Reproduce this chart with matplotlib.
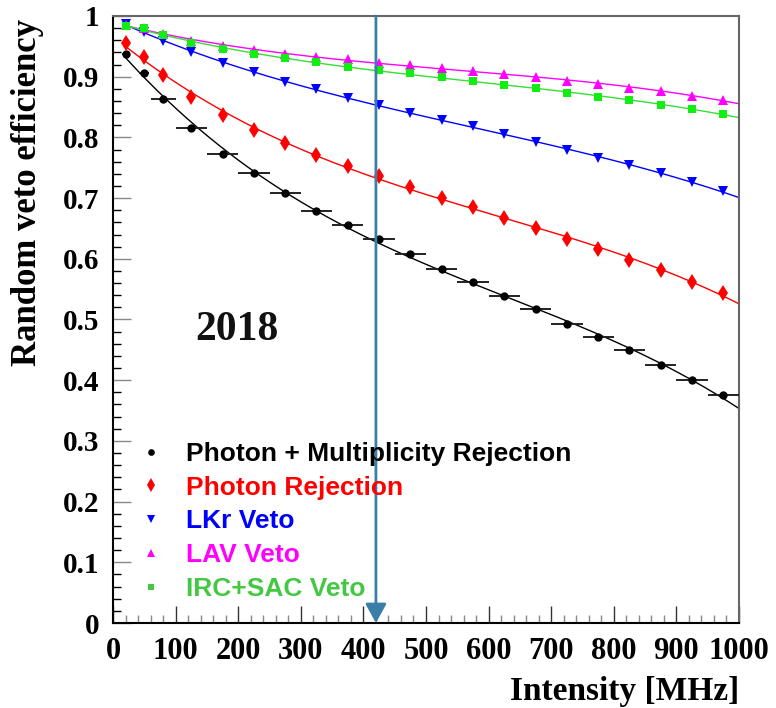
import numpy as np
import matplotlib
matplotlib.use("Agg")
import matplotlib.pyplot as plt
from matplotlib.ticker import MultipleLocator, FuncFormatter

# ---------------- data ----------------
intensity = [20, 50, 80, 125, 175, 225, 275, 325, 375, 425, 475, 525, 575,
             625, 675, 725, 775, 825, 875, 925, 975]
intensity_err = [5, 8, 20, 25, 25, 25, 25, 25, 25, 25, 25, 25, 25,
                 25, 25, 25, 25, 25, 25, 25, 25]

photon_mult = [0.938, 0.906, 0.864, 0.816, 0.773, 0.741, 0.708, 0.679, 0.656,
               0.632, 0.608, 0.584, 0.561, 0.539, 0.517, 0.492, 0.471, 0.450,
               0.425, 0.400, 0.376]
photon_rej = [0.955, 0.932, 0.903, 0.866, 0.837, 0.813, 0.791, 0.771, 0.753,
              0.737, 0.718, 0.700, 0.685, 0.668, 0.650, 0.633, 0.616, 0.598,
              0.582, 0.562, 0.543]
lkr_veto = [0.987, 0.974, 0.959, 0.940, 0.922, 0.907, 0.892, 0.879, 0.865,
            0.854, 0.840, 0.829, 0.818, 0.806, 0.793, 0.779, 0.766, 0.755,
            0.741, 0.726, 0.711]
lav_veto = [0.985, 0.980, 0.970, 0.959, 0.951, 0.944, 0.937, 0.932, 0.929,
            0.923, 0.919, 0.915, 0.909, 0.905, 0.899, 0.893, 0.888, 0.882,
            0.876, 0.869, 0.862]
irc_sac_veto = [0.984, 0.980, 0.969, 0.956, 0.945, 0.937, 0.930, 0.924, 0.916,
                0.911, 0.906, 0.899, 0.893, 0.886, 0.881, 0.873, 0.867, 0.862,
                0.853, 0.847, 0.839]

labels = ["Photon + Multiplicity Rejection", "Photon Rejection", "LKr Veto",
          "LAV Veto", "IRC+SAC Veto"]
nominal_intensity = 420
year_label = "2018"

# ---------------- style ----------------
serif = ["Liberation Serif", "DejaVu Serif"]
sans = ["Liberation Sans", "DejaVu Sans"]

fig = plt.figure(figsize=(7.76, 7.08), dpi=100)
ax = fig.add_axes([113 / 776, 1 - 623 / 708, 626 / 776, 607 / 708])

series = [
    (photon_mult, "o", "black", "black", 6.0, "black"),
    (photon_rej, "d", "#ff0000", "#ff0000", 8.5, "#ff0000"),
    (lkr_veto, "v", "#0000ff", "#0000ff", 7.0, "#0000ff"),
    (lav_veto, "^", "#ff00ff", "#ff00ff", 7.0, "#ff00ff"),
    (irc_sac_veto, "s", "#11ee11", "#33e033", 6.0, "#44c844"),
]

x = np.array(intensity, dtype=float)
xfit = np.linspace(x[0], 1000, 300)
handles = []
for i, (vals, mk, col, lcol, ms, tcol) in enumerate(series):
    coef = np.polyfit(x, np.array(vals), 3)
    ax.plot(xfit, np.polyval(coef, xfit), color=lcol, lw=1.0, zorder=2)
    if i == 0:
        ax.errorbar(x, vals, xerr=intensity_err, fmt="none", ecolor="#222222",
                    elinewidth=1.4, capsize=0, zorder=3)
    ax.plot(x, vals, linestyle="none", marker=mk, color=col, ms=ms,
            markeredgewidth=0, zorder=4)
    h, = ax.plot([], [], linestyle="none", marker=mk, color=tcol,
                 ms=ms * 0.8, markeredgewidth=0)
    handles.append(h)

ax.set_xlim(0, 1000)
ax.set_ylim(0, 1)

# arrow
ax.annotate("", xy=(nominal_intensity, 0), xytext=(nominal_intensity, 1),
            arrowprops=dict(arrowstyle="-|>,head_length=0.4,head_width=0.22",
                            color="#3b7fa8", lw=2.0, shrinkA=0, shrinkB=0,
                            mutation_scale=29),
            zorder=5, annotation_clip=False)

ax.text(198, 0.483, year_label, fontsize=30, fontweight="bold", family=serif,
        ha="center", va="center", color="#111111")

leg = ax.legend(handles, labels, loc="lower left",
                bbox_to_anchor=(0.022, 0.019), frameon=False,
                prop=dict(family=sans, weight="bold", size=19),
                handlelength=1.0, handletextpad=0.85, labelspacing=0.37,
                borderaxespad=0, numpoints=1)
for t, s in zip(leg.get_texts(), series):
    t.set_color(s[5])

# axes & ticks
for side in ("left", "bottom"):
    ax.spines[side].set_color("black")
    ax.spines[side].set_linewidth(1.5)
for side in ("top", "right"):
    ax.spines[side].set_color("#666666")
    ax.spines[side].set_linewidth(1.5)

ax.xaxis.set_major_locator(MultipleLocator(100))
ax.xaxis.set_minor_locator(MultipleLocator(20))
ax.yaxis.set_major_locator(MultipleLocator(0.1))
ax.yaxis.set_minor_locator(MultipleLocator(0.02))
ax.xaxis.set_major_formatter(FuncFormatter(lambda v, p: f"{v:.0f}"))
ax.yaxis.set_major_formatter(FuncFormatter(lambda v, p: f"{v:g}"))

ax.tick_params(which="both", direction="in", top=False, right=False)
ax.tick_params(axis="y", which="major", length=13, width=1.0, color="#888888",
               pad=10)
ax.tick_params(axis="y", which="minor", length=6, width=1.0, color="black")
ax.tick_params(axis="x", which="major", length=12, width=1.0, color="#333333",
               pad=10)
ax.tick_params(axis="x", which="minor", length=6, width=1.0, color="#888888")
for lab in ax.get_xticklabels():
    lab.set_family(serif)
    lab.set_fontweight("bold")
    lab.set_fontsize(22)
for lab in ax.get_yticklabels():
    lab.set_family(serif)
    lab.set_fontweight("bold")
    lab.set_fontsize(21)

ax.set_xlabel("Intensity [MHz]", fontsize=24, fontweight="bold", family=serif,
              loc="right")
ax.set_ylabel("Random veto efficiency", fontsize=25, fontweight="bold",
              family=serif, loc="top")
ax.xaxis.set_label_coords(1.0, -0.088)
ax.yaxis.set_label_coords(-0.11, 0.995)

fig.savefig("out.png", dpi=100)
